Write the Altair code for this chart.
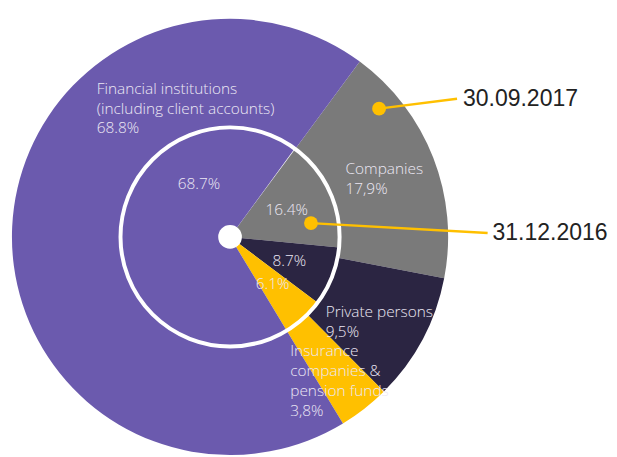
import math
import altair as alt
import pandas as pd

# ---- data ----
categories = [
    "Companies",
    "Private persons",
    "Insurance companies & pension funds",
    "Financial institutions (including client accounts)",
]
share_2017 = [17.9, 9.5, 3.8, 68.8]   # outer ring, 30.09.2017
share_2016 = [16.4, 8.7, 6.1, 68.7]   # inner pie, 31.12.2016
colors = ["#7a7a7a", "#2b2542", "#ffc000", "#6b5aae"]

# label texts (outer ring uses comma decimals as in the source)
outer_labels = ["Companies\n17,9%", "Private persons\n9,5%",
                "Insurance\ncompanies &\npension funds\n3,8%",
                "Financial institutions\n(including client accounts)\n68.8%"]
inner_labels = ["16.4%", "8.7%", "6.1%", "68.7%"]

# ---- layout (pixels, chart coordinates) ----
CX, CY = 225, 229
R_OUT, R_MID, R_HOLE = 221, 111, 12
START = math.radians(36.5)
outer_pos = [(342, 160), (322, 305), (286, 345), (90, 79)]
inner_pos = [(261, 202), (268, 253), (251, 277), (172, 175)]

df17 = pd.DataFrame({"category": categories, "value": share_2017,
                     "order": range(4), "label": outer_labels,
                     "lx": [p[0] for p in outer_pos], "ly": [p[1] for p in outer_pos]})
df16 = pd.DataFrame({"category": categories, "value": share_2016,
                     "order": range(4), "label": inner_labels,
                     "lx": [p[0] for p in inner_pos], "ly": [p[1] for p in inner_pos]})

color = alt.Color("category:N", scale=alt.Scale(domain=categories, range=colors), legend=None)
theta_scale = alt.Scale(range=[START, START + 2 * math.pi])

outer = alt.Chart(df17).mark_arc(radius=R_OUT, radius2=R_MID, stroke=None).encode(
    theta=alt.Theta("value:Q", stack=True, scale=theta_scale),
    order=alt.Order("order:Q"),
    color=color,
    x=alt.value(CX), y=alt.value(CY),
)
inner = alt.Chart(df16).mark_arc(radius=R_MID, radius2=0, stroke=None).encode(
    theta=alt.Theta("value:Q", stack=True, scale=theta_scale),
    order=alt.Order("order:Q"),
    color=color,
    x=alt.value(CX), y=alt.value(CY),
)

one = pd.DataFrame({"k": [0]})
ring = alt.Chart(one).mark_point(shape="circle", filled=False, stroke="white",
                                 strokeWidth=4, size=(2 * R_MID) ** 2, opacity=1).encode(
    x=alt.value(CX), y=alt.value(CY))
hole = alt.Chart(one).mark_point(shape="circle", filled=True, fill="white",
                                 size=(2 * R_HOLE) ** 2, opacity=1, strokeWidth=0).encode(
    x=alt.value(CX), y=alt.value(CY))

txt_style = dict(align="left", baseline="middle", font="Open Sans", fontWeight=300,
                 fontSize=15.6, color="#ece8f4", lineBreak="\n", lineHeight=20)
outer_txt = alt.Chart(df17).mark_text(**txt_style).encode(
    x=alt.X("lx:Q", scale=None), y=alt.Y("ly:Q", scale=None), text="label:N")
inner_txt = alt.Chart(df16).mark_text(**txt_style).encode(
    x=alt.X("lx:Q", scale=None), y=alt.Y("ly:Q", scale=None), text="label:N")

# callouts
call_dates = ["30.09.2017", "31.12.2016"]
call = pd.DataFrame({
    "date": call_dates,
    "dx": [376, 307], "dy": [99, 215],
    "ex": [455, 486], "ey": [89, 225],
    "tx": [461, 491],
})
lines = alt.Chart(call).mark_rule(color="#ffc000", strokeWidth=2.5).encode(
    x=alt.X("dx:Q", scale=None), y=alt.Y("dy:Q", scale=None),
    x2="ex:Q", y2="ey:Q")
dots = alt.Chart(call).mark_point(shape="circle", filled=True, color="#ffc000",
                                  size=196, opacity=1).encode(
    x=alt.X("dx:Q", scale=None), y=alt.Y("dy:Q", scale=None))
dates = alt.Chart(call).mark_text(align="left", baseline="middle", font="Liberation Sans",
                                  fontSize=23.3, color="#222222").encode(
    x=alt.X("tx:Q", scale=None), y=alt.Y("ey:Q", scale=None), text="date:N")

chart = alt.layer(outer, inner, ring, hole, outer_txt, inner_txt, lines, dots, dates).properties(
    width=609, height=449, padding=0, autosize=alt.AutoSizeParams(type="none")
).configure_view(stroke=None)

chart.save("out.html", embed_options={"renderer": "svg", "actions": False})
